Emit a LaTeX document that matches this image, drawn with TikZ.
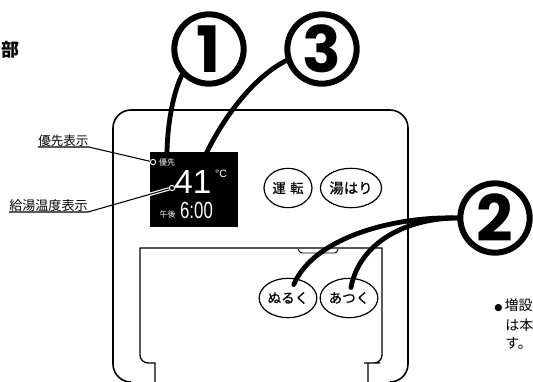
\documentclass[tikz,border=0pt]{standalone}
\usepackage{fontspec}
\usepackage{xcolor}
\usepackage{tikz}
\usetikzlibrary{shapes.geometric}
\setmainfont{Noto Sans CJK JP}
\newfontfamily\numfont{Poppins}
\newfontfamily\dispfont{Liberation Sans}
\newfontfamily\keyfont[FakeBold=.4]{Noto Sans CJK JP}
\tikzset{
  panelline/.style={draw=black,line width=1pt},
  callout/.style={circle,draw=black,fill=white,line width=4.5pt,minimum size=52pt,inner sep=0pt,
    font=\numfont\bfseries\fontsize{48}{48}\selectfont},
  pointer/.style={draw=black,line width=3.6pt,line cap=round},
  keybtn/.style={ellipse,draw=black,line width=.9pt,minimum width=36pt,minimum height=29.5pt,inner sep=0pt},
  tagtext/.style={inner sep=0pt,anchor=south west,font=\fontsize{9.4}{11}\selectfont},
  leader/.style={draw=black,line width=.8pt},
  lamp/.style={circle,draw=white,fill=black,line width=.7pt,minimum size=4pt,inner sep=0pt},
  disptext/.style={text=white,inner sep=0pt}
}
\begin{document}
\begin{tikzpicture}[x=.75pt,y=-.75pt]
    \useasboundingbox (0,0) rectangle (533,382);
    % panel outlines
    \draw[panelline,line width=1.2pt,rounded corners=13.5pt] (131,382) -- (113,382) -- (113,110)
      -- (408,110) -- (408,382) -- (390,382);
    \draw[panelline] (155,382) -- (155,363) -- (150,363) [rounded corners=6pt] -- (140,363) -- (140,300)
      [sharp corners] -- (140,248) -- (382,248) [rounded corners=6pt] -- (382,363) -- (372,363)
      [sharp corners] -- (368,363) -- (368,382);
    \draw[panelline,rounded corners=2pt,line width=.7pt] (298,249) -- (300,253) -- (337,253) -- (338,249);
    % display
    \node[fill=black,minimum width=66pt,minimum height=56.25pt,inner sep=0pt] (dispBox) at (194,189.5) {};
    \node[disptext,font=\fontsize{6}{7}\selectfont] (prioText) at (167,162) {優先};
    \node[disptext,font=\dispfont\fontsize{25}{25}\selectfont] (tempText) at (193,182.5) {41};
    \node[disptext,font=\dispfont\fontsize{8}{8}\selectfont] (unitText) at (221,174) {°C};
    \node[disptext,font=\fontsize{6}{7}\selectfont] (pmText) at (167.5,214) {午後};
    \node[disptext,font=\dispfont\fontsize{17.5}{17.5}\selectfont] (clockText) at (196.5,210.5) {\scalebox{.72}[1]{6:00}};
    % buttons
    \node[keybtn,font=\keyfont\fontsize{10}{11}\selectfont] (btnRun) at (288,188) {運\,\,転};
    \node[keybtn,font=\keyfont\fontsize{10.8}{11}\selectfont] (btnFill) at (351,188) {湯はり};
    \node[keybtn,font=\keyfont\fontsize{10.2}{11}\selectfont] (btnCool) at (288,298) {ぬるく};
    \node[keybtn,font=\keyfont\fontsize{10.2}{11}\selectfont] (btnHot) at (349,298) {あつく};
    % left labels
    \node[tagtext] (tagPrio) at (38,147) {優先表示};
    \node[tagtext,font=\fontsize{9.8}{11}\selectfont] (tagTemp) at (9,212) {給湯温度表示};
    \node[lamp] (lampPrio) at (153,162) {};
    \node[lamp] (lampTemp) at (172,188) {};
    \begin{scope}
      \clip (dispBox.south west) rectangle (dispBox.north east);
      \draw[white,line width=2.6pt] (tagTemp.south east) -- (lampTemp);
    \end{scope}
    \draw[leader] (tagPrio.south west) -- (tagPrio.south east) -- (lampPrio);
    \draw[leader] (tagTemp.south west) -- (tagTemp.south east) -- (lampTemp);
    % callouts
    \node[callout] (numOne) at (209,49) {1};
    \node[callout] (numThree) at (322,49) {3};
    \node[callout] (numTwo) at (495,218) {2};
    \coordinate (tipOne) at (167,154);
    \coordinate (tipThree) at (205,156);
    \draw[pointer] (numOne.224) .. controls (172,95) and (167,130) .. (tipOne);
    \draw[pointer] (numThree.198) .. controls (252,78) and (222,120) .. (tipThree);
    \draw[pointer,shorten >=11pt] (numTwo.west) .. controls (400,216) and (315,235) .. (btnCool.center);
    \draw[pointer,shorten >=8pt] (numTwo.west) .. controls (410,218) and (360,240) .. (btnHot.center);
    % side text
    \node[inner sep=0pt,anchor=west,font=\bfseries\fontsize{13.5}{14}\selectfont] (headText) at (1,50) {部};
    \node[inner sep=0pt,anchor=west,font=\fontsize{10.5}{12}\selectfont] (noteOne) at (494,305) {{\fontspec{DejaVu Sans}\fontsize{7}{8}\selectfont ●}\,増設};
    \node[inner sep=0pt,anchor=west,font=\fontsize{10.5}{12}\selectfont] (noteTwo) at (505,325) {は本};
    \node[inner sep=0pt,anchor=west,font=\fontsize{10.5}{12}\selectfont] (noteThree) at (505,343) {す。};
\end{tikzpicture}
\end{document}
